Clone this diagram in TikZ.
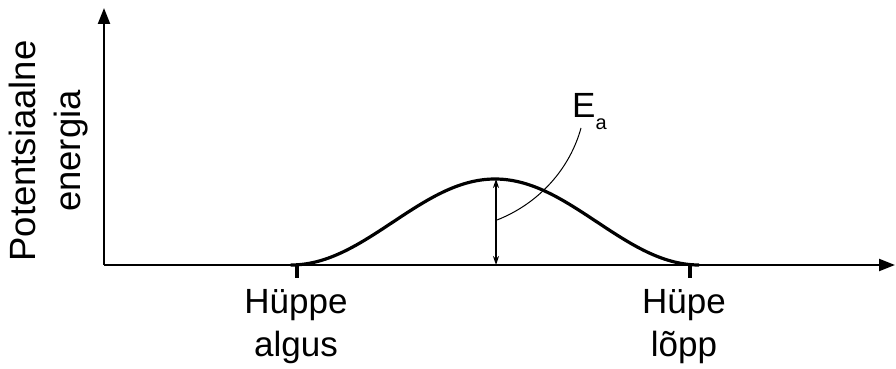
\documentclass[tikz,border=0pt]{standalone}
\usepackage{fontspec}
\setmainfont{Liberation Sans}
\usetikzlibrary{arrows.meta}
\begin{document}
\begin{tikzpicture}[x=1pt,y=-1pt,
  axisline/.style={line width=2.2pt,-{Triangle[length=16pt,width=12pt]}},
  tickmark/.style={line width=4pt},
  lbl/.style={font=\fontsize{35}{43}\selectfont,align=center,inner sep=0pt},
  ylbl/.style={font=\fontsize{36.5}{45}\selectfont,align=center,inner sep=0pt},
  energyarrow/.style={line width=1.3pt,{Stealth[length=9pt,width=6pt]}-{Stealth[length=9pt,width=6pt]}},
  leader/.style={line width=1pt}]
\useasboundingbox (0,0) rectangle (896,369);
\coordinate (origin) at (104,265);
\coordinate (ytip) at (104,8);
\coordinate (xtip) at (895,265);
\coordinate (t1) at (297,265);
\coordinate (t1b) at (297,278);
\coordinate (t2) at (690,265);
\coordinate (t2b) at (690,278);
\coordinate (peak) at (496,179);
\coordinate (base) at (496,265);
\coordinate (lead0) at (497,220);
\coordinate (lead1) at (581,128);
% axes
\draw[axisline] (origin) -- (ytip);
\draw[axisline] (origin) -- (xtip);
\draw[tickmark] (t1) -- (t1b);
\draw[tickmark] (t2) -- (t2b);
% curve
\draw[line width=3.2pt,line cap=round] plot[domain=-1:1,samples=120,smooth] ({495+204*\x},{265-43*(1+cos(180*\x))});
% energy arrow
\draw[energyarrow] (peak) -- (base);
\draw[leader] (lead0) .. controls (540,203) and (570,168) .. (lead1);
% labels
\node[lbl,anchor=base west] (ea) at (572,117) {E\raisebox{-12pt}{\fontsize{20}{20}\selectfont a}};
\node[lbl,anchor=north] (l1) at (296,289) {Hüppe\\algus};
\node[lbl,anchor=north] (l2) at (684,289) {Hüpe\\lõpp};
\node[ylbl,rotate=90] (ylab) at (49,151) {Potentsiaalne\\energia};
\end{tikzpicture}
\end{document}
